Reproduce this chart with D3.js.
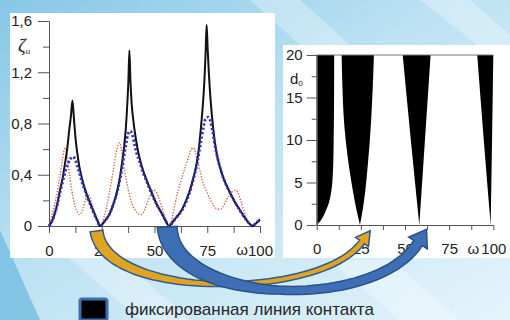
<!DOCTYPE html>
<html>
<head>
<meta charset="utf-8">
<script src="https://cdn.jsdelivr.net/npm/d3@7"></script>
<style>
  body { margin: 0; }
  svg { display: block; font-family: "Liberation Sans", Arial, sans-serif; }
</style>
</head>
<body>
<div id="chart"></div>
<script>
// ---- data ----
// left chart: zeta_u versus omega, three curves
const solidCurve = [[0,0],[1.5,0.04],[2.8,0.1],[4,0.18],[5.2,0.28],[6.4,0.37],[7.6,0.49],[8.6,0.6],[9.6,0.75],[10.4,0.86],[11.1,0.98],
  [11.9,0.82],[12.6,0.68],[13.4,0.57],[14.3,0.47],[15.5,0.38],[17,0.29],[18.5,0.22],[20,0.16],[21.5,0.1],[23,0.04],[24.2,0],
  [26.5,0.04],[28.9,0.1],[30.7,0.18],[32.4,0.28],[33.6,0.38],[34.6,0.49],[35.6,0.62],[36.4,0.76],[37.1,0.95],[37.6,1.12],[38.1,1.37],
  [38.6,1.13],[39.2,0.95],[40,0.82],[40.8,0.72],[42,0.6],[43.9,0.47],[46,0.37],[48.7,0.26],[51,0.17],[53.4,0.1],[55.3,0.04],[56.9,0],
  [59,0.04],[61,0.08],[62.9,0.125],[65,0.2],[66.8,0.28],[68.5,0.38],[70,0.49],[71,0.6],[71.9,0.75],[72.8,0.92],[73.6,1.12],[74.2,1.34],[74.7,1.57],
  [75.2,1.38],[75.8,1.18],[76.6,0.98],[77.9,0.75],[79.3,0.58],[81,0.46],[83,0.36],[85.8,0.26],[88,0.19],[90.5,0.125],[93,0.06],[95.5,0.01],[96.3,0],[98,0.02],[100,0.05]];

const blueCurve = [[0,0],[1.5,0.04],[2.8,0.1],[4,0.17],[5.2,0.26],[6.4,0.34],[7.6,0.42],[8.8,0.48],[10,0.52],[11.2,0.54],
  [12.4,0.52],[13.4,0.47],[14.5,0.41],[15.5,0.35],[17,0.28],[18.5,0.21],[20,0.15],[21.5,0.09],[23,0.04],[24.2,0],
  [26.5,0.04],[28.9,0.1],[30.7,0.18],[32.4,0.27],[33.6,0.36],[34.6,0.45],[35.6,0.55],[36.6,0.65],[37.5,0.72],[38.5,0.74],
  [39.5,0.71],[40.5,0.64],[41.5,0.57],[43,0.5],[44.5,0.42],[46,0.36],[48.7,0.25],[51,0.17],[53.4,0.1],[55.3,0.04],[56.9,0],
  [59,0.04],[61,0.08],[62.9,0.12],[65,0.19],[66.8,0.27],[68.5,0.37],[70,0.47],[71.2,0.58],[72.3,0.69],[73.3,0.78],[74.3,0.84],[75.5,0.85],
  [76.5,0.82],[77.5,0.74],[78.5,0.64],[79.5,0.56],[81,0.46],[83,0.36],[85.8,0.26],[88,0.19],[90.5,0.12],[93,0.06],[95.5,0.01],[96.3,0],[98,0.02],[100,0.05]];

const redCurve = [[0,0],[1.2,0.07],[2.8,0.18],[4,0.28],[5.2,0.39],[6.2,0.5],[7,0.58],[7.7,0.61],[8.4,0.58],[9.2,0.47],[10,0.37],[10.8,0.28],
  [12,0.18],[13.1,0.12],[14.2,0.09],[15.2,0.1],[16.2,0.14],[17.2,0.2],[18.3,0.24],[19.3,0.23],[20.2,0.18],[21.4,0.11],[22.6,0.05],[23.6,0.02],
  [24.5,0.01],[25.5,0.04],[26.4,0.09],[27.3,0.15],[28.5,0.25],[29.7,0.36],[30.8,0.47],[31.8,0.57],[32.7,0.63],[33.5,0.65],[34.3,0.6],[35.2,0.49],
  [36.4,0.38],[37.6,0.28],[39,0.19],[40.8,0.125],[42.4,0.095],[43.9,0.09],[45.4,0.13],[47,0.2],[48.3,0.25],[49.5,0.28],[50.7,0.27],[51.8,0.23],
  [53,0.17],[54.2,0.11],[55.3,0.05],[56.4,0.02],[57.5,0.02],[58.6,0.08],[59.6,0.16],[60.5,0.23],[61.8,0.31],[63.2,0.39],[64.4,0.45],[65.4,0.5],
  [66.5,0.56],[67.5,0.6],[68.5,0.61],[69.5,0.57],[70.5,0.5],[71.6,0.43],[73,0.34],[74.7,0.27],[76.3,0.21],[78,0.16],[79.5,0.135],[81,0.13],
  [82.5,0.15],[84,0.2],[85.5,0.24],[87,0.27],[88.5,0.28],[89.8,0.25],[91,0.19],[92.3,0.12],[93.6,0.06],[95,0.02],[96.2,0.01],[97.5,0.02],[98.8,0.04],[100,0.06]];

// right chart: black zones, each row [d0, omega left, omega right]
const zone1 = [[0,0,0],[0.2,0,0.9],[0.5,0,2.2],[1,0,3.7],[1.7,0,5.2],[2.4,0,6.6],[3.3,0,7.7],[4.3,0,8.5],[5.5,0,9],[7.4,0,9.4],[10,0,9.6],[13.3,0,9.8],[20,0,9.9]];
const zone2 = [[0,24.5,24.5],[2,22.3,26.2],[4,20.5,27.5],[7,18.2,28.9],[10,16.4,30.1],[13,15.2,31],[16,14.6,31.7],[20,14.1,32.4]];
const zone3 = [[0,58.1,58.1],[10,53.3,61.3],[20,48.7,64.5]];
const zone4 = [[0,98.5,98.5],[10,94.6,99.3],[20,90.9,100]];

// ticks
const leftYMajor = [0, 0.4, 0.8, 1.2, 1.6];
const leftYMinor = [0.2, 0.6, 1.0, 1.4];
const xMajor = [0, 25, 50, 75, 100];
const xMinor = [12.5, 37.5, 62.5, 87.5];
const rightYMajor = [0, 5, 10, 15, 20];
const rightYMinor = [2.5, 7.5, 12.5, 17.5];
const legendLabel = "фиксированная линия контакта";

// ---- drawing ----
const W = 510, H = 320;
const svg = d3.select("#chart").append("svg")
    .attr("width", W)
    .attr("height", H);

// slide background
const defs = svg.append("defs");
const grad = defs.append("linearGradient").attr("id", "bg")
    .attr("x1", 0).attr("y1", 0).attr("x2", 1).attr("y2", 1);
grad.append("stop").attr("offset", 0).attr("stop-color", "#86c7e6");
grad.append("stop").attr("offset", 0.45).attr("stop-color", "#bde2f3");
grad.append("stop").attr("offset", 1).attr("stop-color", "#e4f4fb");
svg.append("rect").attr("width", W).attr("height", H).attr("fill", "url(#bg)");

const stripes = [
  "0,230 0,320 40,320",
  "60,250 140,320 190,320 110,250",
  "250,0 300,0 350,45 300,45",
  "420,0 470,0 510,35 510,70",
  "330,260 400,320 460,320 390,260"
];
svg.append("g").selectAll("polygon").data(stripes).join("polygon")
    .attr("points", d => d)
    .attr("fill", (d, i) => i === 0 ? "#74bde2" : "#ffffff")
    .attr("opacity", (d, i) => i === 0 ? 0.8 : 0.3);

// white panels
svg.append("rect").attr("x", 10).attr("y", 13).attr("width", 265).attr("height", 245).attr("fill", "#fff");
svg.append("rect").attr("x", 283).attr("y", 45).attr("width", 227).attr("height", 213).attr("fill", "#fff");

function styleAxis(g, size) {
  g.select(".domain").attr("stroke", "#555");
  g.selectAll(".tick line").attr("stroke", "#555");
  g.selectAll(".tick text").attr("fill", "#222").attr("font-size", size)
      .attr("font-family", "Liberation Sans, Arial, sans-serif");
}
const comma = d => String(d).replace(".", ",");

// ---- left chart ----
const xL = d3.scaleLinear().domain([0, 100]).range([49, 260]);
const yL = d3.scaleLinear().domain([0, 1.6]).range([226, 21]);

svg.append("g").attr("transform", `translate(49,0)`)
    .call(d3.axisLeft(yL).tickValues(leftYMinor).tickSize(6).tickSizeOuter(0).tickFormat(""))
    .call(g => styleAxis(g, 15));
svg.append("g").attr("transform", `translate(49,0)`)
    .call(d3.axisLeft(yL).tickValues(leftYMajor).tickSize(11).tickSizeOuter(0).tickPadding(6).tickFormat(comma))
    .call(g => styleAxis(g, 15));
svg.append("g").attr("transform", `translate(0,226)`)
    .call(d3.axisBottom(xL).tickValues(xMinor).tickSize(7).tickSizeOuter(0).tickFormat(""))
    .call(g => styleAxis(g, 15));
svg.append("g").attr("transform", `translate(0,226)`)
    .call(d3.axisBottom(xL).tickValues(xMajor).tickSize(7).tickSizeOuter(0).tickPadding(12))
    .call(g => styleAxis(g, 15));
svg.append("text").attr("x", xL(100) - 12).attr("y", 255)
    .attr("text-anchor", "end").attr("font-size", 15).attr("fill", "#222").text("ω");

const zeta = svg.append("text").attr("x", 18).attr("y", 52).attr("fill", "#222");
zeta.append("tspan").attr("font-family", "Liberation Serif, serif").attr("font-style", "italic").attr("font-size", 19).text("ζ");
zeta.append("tspan").attr("font-size", 8).attr("dy", 2).text("u");

const lineL = d3.line().x(d => xL(d[0])).y(d => yL(d[1])).curve(d3.curveMonotoneX);

svg.append("path").datum(redCurve)
    .attr("d", lineL).attr("fill", "none")
    .attr("stroke", "#d9623e").attr("stroke-width", 1.4).attr("stroke-dasharray", "1.3,1.6");
svg.append("path").datum(solidCurve)
    .attr("d", lineL).attr("fill", "none")
    .attr("stroke", "#111").attr("stroke-width", 2);
svg.append("path").datum(blueCurve)
    .attr("d", lineL).attr("fill", "none")
    .attr("stroke", "#3030c8").attr("stroke-width", 2.8).attr("stroke-dasharray", "2.2,2.2");

// ---- right chart ----
const xR = d3.scaleLinear().domain([0, 100]).range([316.7, 493.3]);
const yR = d3.scaleLinear().domain([0, 20]).range([225, 55]);

const zoneArea = d3.area()
    .y(d => yR(d[0]))
    .x0(d => xR(d[1]))
    .x1(d => xR(d[2]))
    .curve(d3.curveMonotoneY);
svg.append("g").selectAll("path").data([zone1, zone2, zone3, zone4]).join("path")
    .attr("d", zoneArea).attr("fill", "#000");

svg.append("line")
    .attr("x1", xR(0)).attr("x2", xR(100)).attr("y1", yR(20)).attr("y2", yR(20))
    .attr("stroke", "#777").attr("stroke-width", 1);
svg.append("g").attr("transform", `translate(${xR(0)},0)`)
    .call(d3.axisLeft(yR).tickValues(rightYMinor).tickSize(5).tickSizeOuter(0).tickFormat(""))
    .call(g => styleAxis(g, 15));
svg.append("g").attr("transform", `translate(${xR(0)},0)`)
    .call(d3.axisLeft(yR).tickValues(rightYMajor).tickSize(10).tickSizeOuter(0).tickPadding(4))
    .call(g => styleAxis(g, 15));
svg.append("g").attr("transform", `translate(0,${yR(0)})`)
    .call(d3.axisBottom(xR).tickValues(xMinor).tickSize(5).tickSizeOuter(0).tickFormat(""))
    .call(g => styleAxis(g, 15));
svg.append("g").attr("transform", `translate(0,${yR(0)})`)
    .call(d3.axisBottom(xR).tickValues(xMajor).tickSize(5).tickSizeOuter(0).tickPadding(13))
    .call(g => styleAxis(g, 15));
svg.append("text").attr("x", xR(100) - 14).attr("y", 254)
    .attr("text-anchor", "end").attr("font-size", 15).attr("fill", "#222").text("ω");

const dLabel = svg.append("text").attr("x", 290).attr("y", 84).attr("fill", "#222").attr("font-size", 15);
dLabel.append("tspan").text("d");
dLabel.append("tspan").attr("font-size", 8).attr("dy", 2).text("0");

// ---- curved arrows from the left chart zeros to the right chart ----
function arrowPath(p0, c1, c2, p3, w0, wm, w1, headW, headL) {
  const n = 48, a = [], b = [];
  const bez = t => {
    const u = 1 - t;
    return [u*u*u*p0[0] + 3*u*u*t*c1[0] + 3*u*t*t*c2[0] + t*t*t*p3[0],
            u*u*u*p0[1] + 3*u*u*t*c1[1] + 3*u*t*t*c2[1] + t*t*t*p3[1]];
  };
  const der = t => {
    const u = 1 - t;
    const dx = 3*u*u*(c1[0]-p0[0]) + 6*u*t*(c2[0]-c1[0]) + 3*t*t*(p3[0]-c2[0]);
    const dy = 3*u*u*(c1[1]-p0[1]) + 6*u*t*(c2[1]-c1[1]) + 3*t*t*(p3[1]-c2[1]);
    const l = Math.hypot(dx, dy);
    return [dx / l, dy / l];
  };
  for (let i = 0; i <= n; i++) {
    const t = i / n, p = bez(t), d = der(t);
    const w = t < 0.5 ? w0 + (wm - w0) * t / 0.5 : wm + (w1 - wm) * (t - 0.5) / 0.5;
    a.push([p[0] - d[1] * w / 2, p[1] + d[0] * w / 2]);
    b.push([p[0] + d[1] * w / 2, p[1] - d[0] * w / 2]);
  }
  const e = bez(1), d = der(1);
  const h1 = [e[0] - d[1] * headW / 2, e[1] + d[0] * headW / 2];
  const h2 = [e[0] + d[1] * headW / 2, e[1] - d[0] * headW / 2];
  const tip = [e[0] + d[0] * headL, e[1] + d[1] * headL];
  const pts = a.concat([h1, tip, h2]).concat(b.reverse());
  return "M" + pts.map(p => p[0].toFixed(1) + "," + p[1].toFixed(1)).join("L") + "Z";
}

svg.append("path")
    .attr("d", arrowPath([xL(22.5), 231], [105, 300], [320, 300], [362, 242], 13, 5, 6, 16, 14))
    .attr("fill", "#e0a41e").attr("stroke", "#2f5a96").attr("stroke-width", 1.5);
svg.append("path")
    .attr("d", arrowPath([xL(56), 227], [172, 305], [375, 312], [418, 243], 20, 8, 10, 22, 16))
    .attr("fill", "#3e6fb6").attr("stroke", "#2b5187").attr("stroke-width", 1.5);

// ---- legend ----
svg.append("rect").attr("x", 80).attr("y", 299).attr("width", 27).attr("height", 21).attr("rx", 2)
    .attr("fill", "#000").attr("stroke", "#3d6fb0").attr("stroke-width", 3);
svg.append("text").attr("x", 125).attr("y", 315)
    .attr("font-size", 17).attr("fill", "#262626").text(legendLabel);
</script>
</body>
</html>
